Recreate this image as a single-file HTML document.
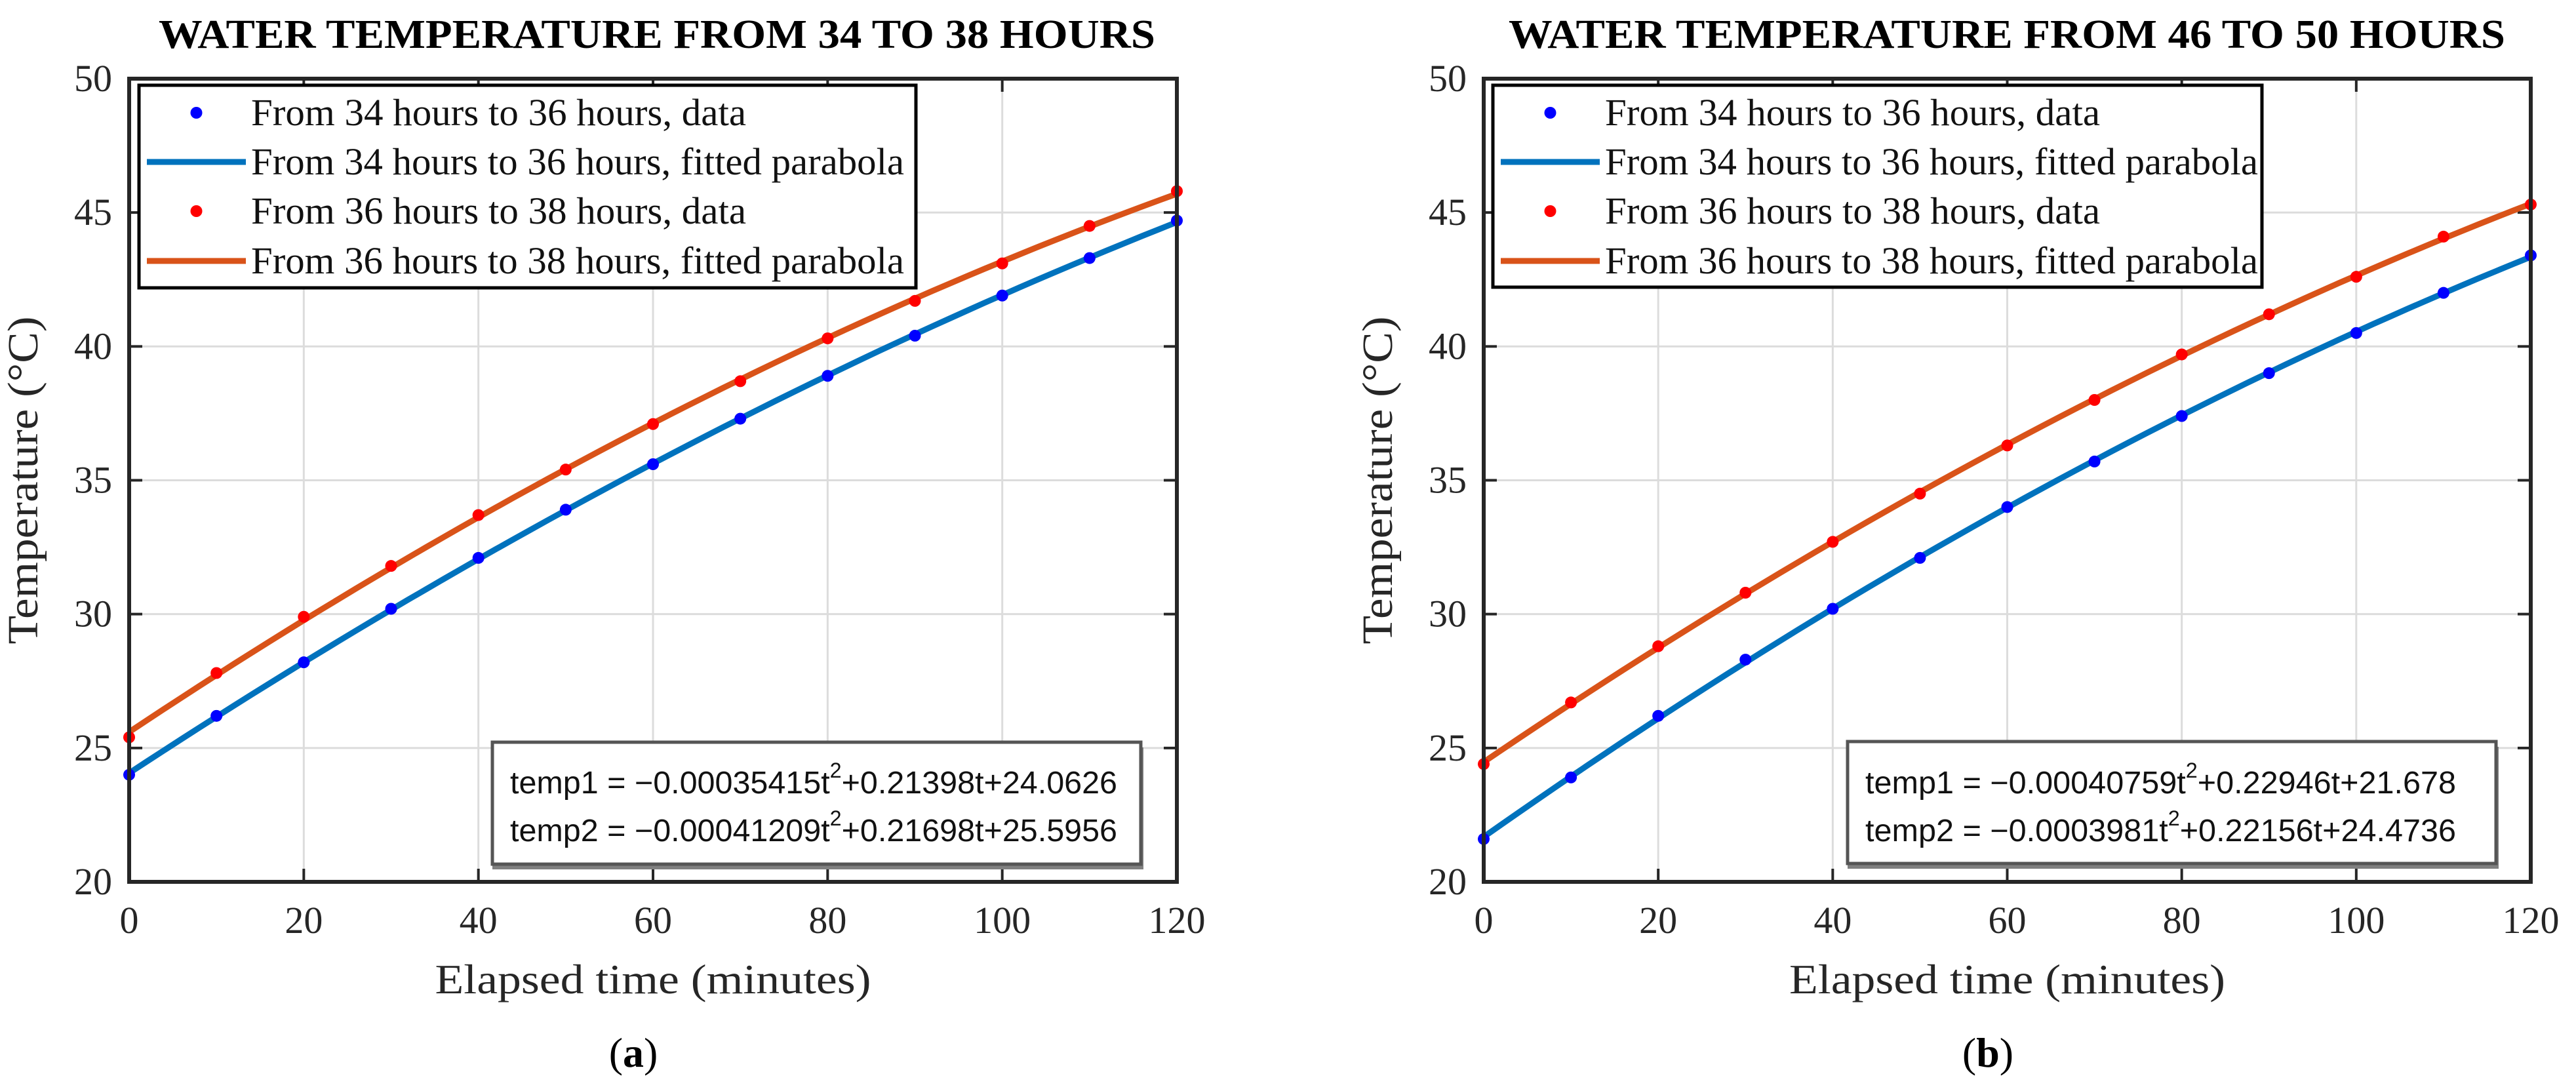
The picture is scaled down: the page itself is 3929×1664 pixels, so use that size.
<!DOCTYPE html>
<html><head><meta charset="utf-8">
<style>
html,body{margin:0;padding:0;background:#fff;}
svg{display:block;}
text{font-family:"Liberation Serif",serif;}
.sans{font-family:"Liberation Sans",sans-serif;}
</style></head>
<body>
<svg id="fig" width="3929" height="1664" viewBox="0 0 3929 1664" xmlns="http://www.w3.org/2000/svg"></svg>
<script>
// ---- data ----
const times = [0,10,20,30,40,50,60,70,80,90,100,110,120];
const xTicks = [0,20,40,60,80,100,120];
const yTicks = [20,25,30,35,40,45,50];
const titles = ["WATER TEMPERATURE FROM 34 TO 38 HOURS","WATER TEMPERATURE FROM 46 TO 50 HOURS"];
const panelLabels = ["a","b"];
const aBlue = [24.0,26.2,28.2,30.2,32.1,33.9,35.6,37.3,38.9,40.4,41.9,43.3,44.7];
const aRed  = [25.4,27.8,29.9,31.8,33.7,35.4,37.1,38.7,40.3,41.7,43.1,44.5,45.8];
const bBlue = [21.6,23.9,26.2,28.3,30.2,32.1,34.0,35.7,37.4,39.0,40.5,42.0,43.4];
const bRed  = [24.4,26.7,28.8,30.8,32.7,34.5,36.3,38.0,39.7,41.2,42.6,44.1,45.3];
const aFit1 = [-0.00035415,0.21398,24.0626];
const aFit2 = [-0.00041209,0.21698,25.5956];
const bFit1 = [-0.00040759,0.22946,21.678];
const bFit2 = [-0.0003981,0.22156,24.4736];
const eqA = [["temp1 = \u22120.00035415t","+0.21398t+24.0626"],["temp2 = \u22120.00041209t","+0.21698t+25.5956"]];
const eqB = [["temp1 = \u22120.00040759t","+0.22946t+21.678"],["temp2 = \u22120.0003981t","+0.22156t+24.4736"]];
const legendLabels = ["From 34 hours to 36 hours, data","From 34 hours to 36 hours, fitted parabola","From 36 hours to 38 hours, data","From 36 hours to 38 hours, fitted parabola"];

const NS="http://www.w3.org/2000/svg";
const svg=document.getElementById('fig');
function mk(tag,attrs,parent){const e=document.createElementNS(NS,tag);for(const k in attrs)e.setAttribute(k,attrs[k]);(parent||svg).appendChild(e);return e;}

const panels=[
 {x0:197,x1:1795,y0:1345,y1:120,blue:aBlue,red:aRed,f1:aFit1,f2:aFit2,eq:eqA,box:[751,1132,1740,1318],eqx:778,eqw:926,leg:[212,130,1397,439],title:titles[0],tc:1002,lab:panelLabels[0],lc:966},
 {x0:2263,x1:3860,y0:1345,y1:120,blue:bBlue,red:bRed,f1:bFit1,f2:bFit2,eq:eqB,box:[2818,1131,3807,1317],eqx:2845,eqw:901,leg:[2277,130,3450,438],title:titles[1],tc:3061,lab:panelLabels[1],lc:3032}
];

panels.forEach((p,pi)=>{
  const g=mk('g',{});
  
  
  const X=t=>p.x0+(t-0)/120*(p.x1-p.x0);
  const Y=v=>p.y0-(v-20)/30*(p.y0-p.y1);
  const tt=mk('text',{x:p.tc,y:73,'text-anchor':'middle','font-size':62,'font-weight':'bold',textLength:1520,lengthAdjust:'spacingAndGlyphs'},g);
  tt.textContent=p.title;
  
  
  xTicks.forEach(t=>{const l=mk('line',{x1:X(t),x2:X(t),y1:p.y1,y2:p.y0,stroke:'#dcdcdc','stroke-width':3},g);
    });
  yTicks.forEach(v=>{const l=mk('line',{x1:p.x0,x2:p.x1,y1:Y(v),y2:Y(v),stroke:'#dcdcdc','stroke-width':3},g);
    });
  xTicks.forEach(t=>{
    mk('line',{x1:X(t),x2:X(t),y1:p.y0,y2:p.y0-20,stroke:'#262626','stroke-width':4},g);
    mk('line',{x1:X(t),x2:X(t),y1:p.y1,y2:p.y1+20,stroke:'#262626','stroke-width':4},g);
    const tx=mk('text',{x:X(t),y:1423,'text-anchor':'middle','font-size':58,fill:'#262626'},g);
    tx.textContent=t;
    
  });
  yTicks.forEach(v=>{
    mk('line',{x1:p.x0,x2:p.x0+20,y1:Y(v),y2:Y(v),stroke:'#262626','stroke-width':4},g);
    mk('line',{x1:p.x1,x2:p.x1-20,y1:Y(v),y2:Y(v),stroke:'#262626','stroke-width':4},g);
    const ty=mk('text',{x:p.x0-26,y:Y(v)+19,'text-anchor':'end','font-size':58,fill:'#262626'},g);
    ty.textContent=v;
    
  });
  [[p.f1,'#0072BD','fit-curve-1'],[p.f2,'#D95319','fit-curve-2']].forEach(([c,col,nm])=>{
    let d='';for(let t=0;t<=120;t+=2){const v=c[0]*t*t+c[1]*t+c[2];d+=(t?'L':'M')+X(t).toFixed(1)+','+Y(v).toFixed(1);}
    const pa=mk('path',{d:d,fill:'none',stroke:col,'stroke-width':9},g);
    
  });
  [[p.blue,'#0000FF','data-point-1'],[p.red,'#FF0000','data-point-2']].forEach(([arr,col,nm])=>{
    arr.forEach((v,i)=>{const c=mk('circle',{cx:X(times[i]),cy:Y(v),r:9,fill:col},g);
      });
  });
  const ax=mk('rect',{x:p.x0,y:p.y1,width:p.x1-p.x0,height:p.y0-p.y1,fill:'none',stroke:'#262626','stroke-width':6},g);
  
  const L=p.leg;
  const lg=mk('g',{},g);
  
  mk('rect',{x:L[0],y:L[1],width:L[2]-L[0],height:L[3]-L[1],fill:'#fff',stroke:'#000','stroke-width':5},lg);
  const rows=[172,247,322,398];
  const lx=L[0]+12, lw=151, tx0=L[0]+171;
  const widths=[755,996,755,996];
  legendLabels.forEach((lab,i)=>{
    const cy=rows[i];
    if(i%2===0){mk('circle',{cx:lx+lw/2,cy:cy,r:9,fill:i===0?'#0000FF':'#FF0000'},lg);}
    else{mk('line',{x1:lx,x2:lx+lw,y1:cy,y2:cy,stroke:i===1?'#0072BD':'#D95319','stroke-width':9},lg);}
    const t=mk('text',{x:tx0,y:cy+19,'font-size':58,fill:'#111',textLength:widths[i],lengthAdjust:'spacingAndGlyphs'},lg);
    t.textContent=lab;
    
  });
  const B=p.box;
  const eb=mk('g',{},g);
  
  mk('rect',{x:B[0],y:B[1]+8,width:B[2]-B[0]+4,height:B[3]-B[1],fill:'#808080'},eb);
  mk('rect',{x:B[0],y:B[1],width:B[2]-B[0],height:B[3]-B[1],fill:'#fff',stroke:'#555','stroke-width':5},eb);
  [1210,1283].forEach((by,i)=>{
    const t=mk('text',{x:p.eqx,y:by,'font-size':48,fill:'#111','class':'sans',textLength:p.eqw,lengthAdjust:'spacingAndGlyphs'},eb);
    const s1=mk('tspan',{},t); s1.textContent=p.eq[i][0];
    const s2=mk('tspan',{dy:-24,'font-size':32},t); s2.textContent='2';
    const s3=mk('tspan',{dy:24},t); s3.textContent=p.eq[i][1];
    
  });
  const xl=mk('text',{x:(p.x0+p.x1)/2,y:1515,'text-anchor':'middle','font-size':64,fill:'#262626',textLength:665,lengthAdjust:'spacingAndGlyphs'},g);
  xl.textContent='Elapsed time (minutes)';
  
  const yx=p.x0-140, yc=(p.y0+p.y1)/2;
  const yl=mk('text',{x:yx,y:yc,'text-anchor':'middle','font-size':66,fill:'#262626',transform:`rotate(-90 ${yx} ${yc})`,textLength:500,lengthAdjust:'spacingAndGlyphs'},g);
  yl.textContent='Temperature (°C)';
  
  const pl=mk('text',{x:p.lc,y:1627,'text-anchor':'middle','font-size':64,fill:'#000'},g);
  pl.appendChild(document.createTextNode('('));
  const b=mk('tspan',{'font-weight':'bold'},pl); b.textContent=p.lab;
  pl.appendChild(document.createTextNode(')'));
  
});
</script>
</body></html>
